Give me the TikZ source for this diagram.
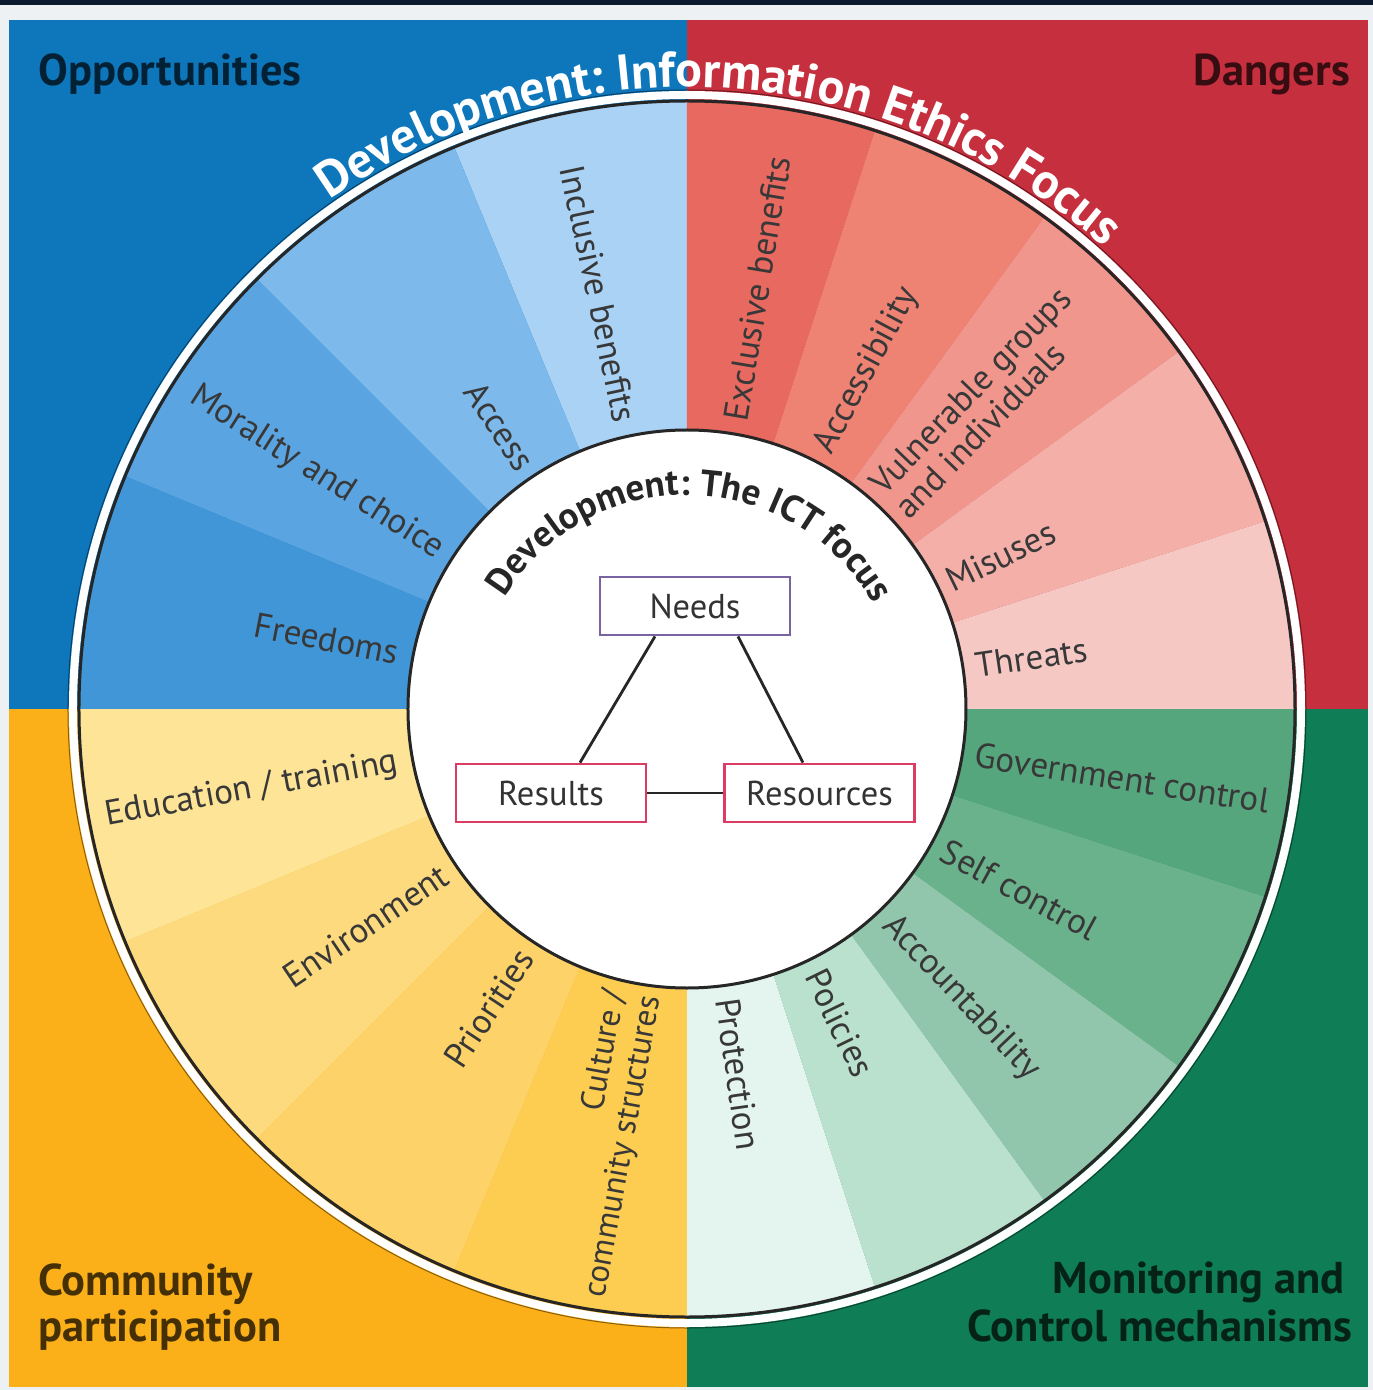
\documentclass[tikz,border=0pt]{standalone}
\usepackage{fontspec}
\setmainfont{PT Sans}
\usetikzlibrary{decorations.text}
\definecolor{paper}{HTML}{EEF1F3}
\definecolor{topbar}{HTML}{0B1A2E}
\definecolor{bgblue}{HTML}{0E77BC}
\definecolor{bgred}{HTML}{C62F3E}
\definecolor{bgyellow}{HTML}{FBAF19}
\definecolor{bggreen}{HTML}{0F7D55}
\definecolor{bw1}{HTML}{A9D2F5}
\definecolor{bw2}{HTML}{7DB9EB}
\definecolor{bw3}{HTML}{5AA5E1}
\definecolor{bw4}{HTML}{4196D7}
\definecolor{rw1}{HTML}{E8695F}
\definecolor{rw2}{HTML}{EE8273}
\definecolor{rw3}{HTML}{F0968C}
\definecolor{rw4}{HTML}{F3AFA8}
\definecolor{rw5}{HTML}{F6C8C4}
\definecolor{gw1}{HTML}{55A57D}
\definecolor{gw2}{HTML}{69B28C}
\definecolor{gw3}{HTML}{91C6AC}
\definecolor{gw4}{HTML}{B9E1CD}
\definecolor{gw5}{HTML}{E4F4EE}
\definecolor{yw1}{HTML}{FDE496}
\definecolor{yw2}{HTML}{FDDA7D}
\definecolor{yw3}{HTML}{FDD269}
\definecolor{yw4}{HTML}{FCCD50}
\definecolor{needcol}{HTML}{7864A0}
\definecolor{rescol}{HTML}{DC3C64}
\begin{document}
\begin{tikzpicture}[x=1pt,y=1pt,
  lab/.style={font=\fontsize{35}{35}\selectfont, text=black!78, inner sep=0pt},
  qtitle/.style={font=\fontsize{44.5}{44.5}\bfseries\selectfont, text=black, text opacity=0.72, inner sep=0pt},
  box/.style={draw, line width=2.8pt, fill=white, minimum width=190pt, minimum height=58pt, font=\fontsize{34.5}{34.5}\selectfont, text=black!80, inner sep=0pt},
  conn/.style={draw=black!85, line width=2.8pt}]
% origin = ring centre; image (X,Y) -> (X-687, 709-Y)
\useasboundingbox (-687,-681) rectangle (686,709);
\fill[paper] (-687,-681) rectangle (686,709);
\fill[topbar] (-687,704) rectangle (686,709);
% quadrant backgrounds
\fill[bgblue] (-678,0) rectangle (0,689);
\fill[bgred] (0,0) rectangle (681,689);
\fill[bgyellow] (-678,-678) rectangle (0,0);
\fill[bggreen] (0,-678) rectangle (681,0);
% wedges
\foreach \a/\b/\c in {90/112.5/bw1,112.5/135/bw2,135/157.5/bw3,157.5/180/bw4,
  90/72/rw1,72/54/rw2,54/36/rw3,36/18/rw4,18/0/rw5,
  0/-18/gw1,-18/-36/gw2,-36/-54/gw3,-54/-72/gw4,-72/-90/gw5,
  180/202.5/yw1,202.5/225/yw2,225/247.5/yw3,247.5/270/yw4}
  \fill[\c] (0,0) -- (\a:608) arc[start angle=\a, end angle=\b, radius=608] -- cycle;
% outer ring
\draw[black, opacity=0.45, line width=1pt] (0,0) circle (619);
\draw[white, line width=8pt] (0,0) circle (614);
\draw[black!85, line width=3pt] (0,0) circle (608);
% inner circle
\draw[black!85, fill=white, line width=3pt] (0,0) circle (279);
% curved titles
\path[decorate, decoration={text along path, text color=white, text align=center,
  text={|\fontsize{50}{50}\bfseries\selectfont|Development: Information Ethics Focus}}]
  (136.5:622) arc[start angle=136.5, end angle=36.5, radius=622];
\path[decorate, decoration={text along path, text color=black!85, text align=center,
  text={|\fontsize{37}{37}\bfseries\selectfont|Development: The ICT focus}}]
  (175:214) arc[start angle=175, end angle=3, radius=214];
% blue labels
\node[lab, anchor=east, rotate=-78] (incl) at (102:294) {Inclusive benefits};
\node[lab, anchor=east, rotate=-56.5] (acc) at (123.5:290) {Access};
\node[lab, anchor=east, rotate=-32.5] (mor) at (147.5:292) {Morality and choice};
\node[lab, anchor=east, rotate=-11] (free) at (169:294) {Freedoms};
% red labels
\node[lab, anchor=west, rotate=80.5] (excl) at (80.5:292) {Exclusive benefits};
\node[lab, anchor=west, rotate=62] (acce) at (62:292) {Accessibility};
\node[lab, anchor=west, rotate=46, align=left] (vuln) at (46:290) {Vulnerable groups\\and individuals};
\node[lab, anchor=west, rotate=26] (mis) at (26:290) {Misuses};
\node[lab, anchor=west, rotate=8.5] (thr) at (8.5:292) {Threats};
% green labels
\node[lab, anchor=west, rotate=-9] (gov) at (-9:292) {Government control};
\node[lab, anchor=west, rotate=-28.5] (self) at (-28.5:292) {Self control};
\node[lab, anchor=west, rotate=-46.5] (accnt) at (-46.5:292) {Accountability};
\node[lab, anchor=west, rotate=-64] (pol) at (-64:292) {Policies};
\node[lab, anchor=west, rotate=-82] (prot) at (-82:292) {Protection};
% yellow labels
\node[lab, anchor=east, rotate=10.5] (edu) at (190.5:294) {Education / training};
\node[lab, anchor=east, rotate=34] (env) at (214:292) {Environment};
\node[lab, anchor=east, rotate=56.5] (prio) at (236.5:292) {Priorities};
\node[lab, anchor=east, rotate=79.5, align=right, font=\fontsize{33}{36}\selectfont] (cult) at (259.5:289) {Culture /\\community structures};
% quadrant titles
\node[qtitle, anchor=base west] (opp) at (-649,623) {Opportunities};
\node[qtitle, anchor=base east] (dang) at (663,623) {Dangers};
\node[qtitle, anchor=base west] (comm1) at (-649,-586) {Community};
\node[qtitle, anchor=base west] (comm2) at (-649,-632) {participation};
\node[qtitle, anchor=base east] (mon1) at (658,-584) {Monitoring and};
\node[qtitle, anchor=base east] (mon2) at (665,-632) {Control mechanisms};
% triangle
\node[box, draw=needcol] (needs) at (8,103) {Needs};
\node[box, draw=rescol] (results) at (-136,-84) {Results};
\node[box, draw=rescol] (resources) at (132.5,-84) {Resources};
\draw[conn] ([xshift=-40pt]needs.south) -- ([xshift=29pt]results.north);
\draw[conn] ([xshift=43pt]needs.south) -- ([xshift=-16.5pt]resources.north);
\draw[conn] (results.east) -- (resources.west);
\end{tikzpicture}
\end{document}
